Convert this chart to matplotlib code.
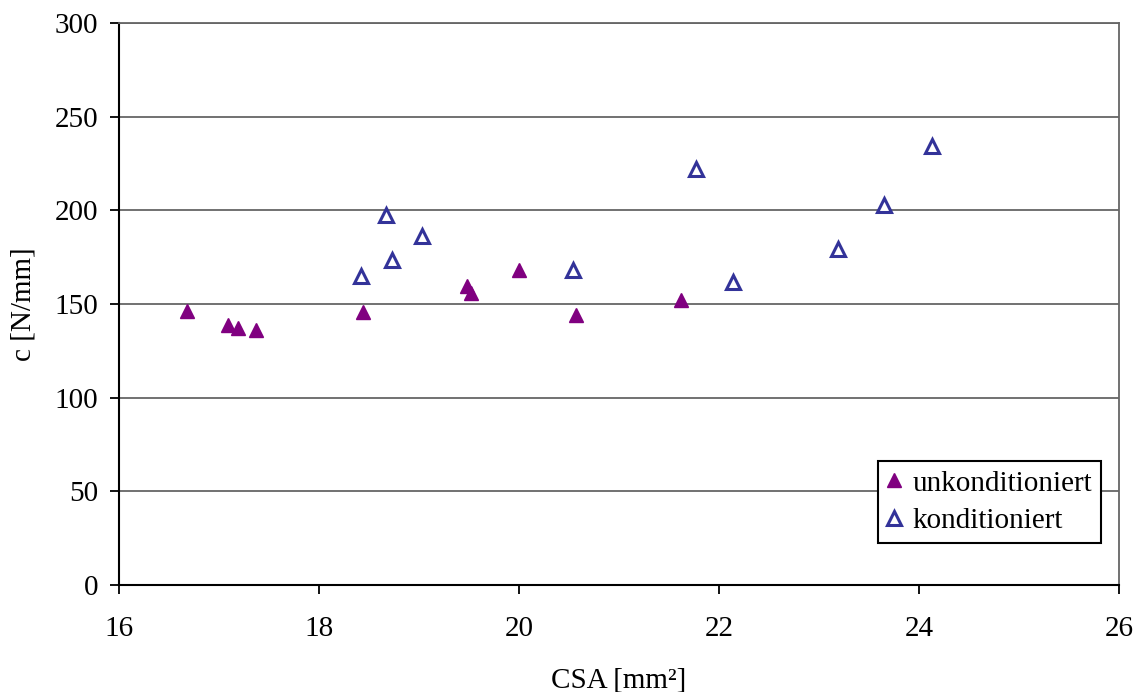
import matplotlib
matplotlib.use("Agg")
import matplotlib.pyplot as plt

# Data
unk_x = [16.68, 17.09, 17.19, 17.37, 18.44, 19.48, 19.52, 20.00, 20.57, 21.62]
unk_y = [146.3, 138.8, 137.2, 136.1, 145.7, 159.6, 155.9, 168.2, 144.1, 152.1]
kon_x = [18.42, 18.67, 18.73, 19.03, 20.54, 21.77, 22.14, 23.19, 23.65, 24.13]
kon_y = [165.0, 197.5, 173.5, 186.3, 168.2, 222.0, 161.6, 179.4, 202.9, 234.4]
x_ticks = [16, 18, 20, 22, 24, 26]
y_ticks = [0, 50, 100, 150, 200, 250, 300]
labels = ["unkonditioniert", "konditioniert"]

plt.rcParams['font.family'] = ['Liberation Serif', 'DejaVu Serif']

fig = plt.figure(figsize=(11.39, 6.92), dpi=100)
ax = fig.add_axes([119/1139, 1-585/692, 1000/1139, 562/692])

ax.set_xlim(16, 26)
ax.set_ylim(0, 300)
ax.set_xticks(x_ticks)
ax.set_yticks(y_ticks)
ax.yaxis.grid(True, color='#666666', linewidth=1.3)
ax.set_axisbelow(True)

ax.plot(unk_x, unk_y, linestyle='none', marker='^', markersize=10.5,
        color='#800080', markeredgecolor='#800080', label=labels[0], clip_on=False)
ax.plot(kon_x, kon_y, linestyle='none', marker='^', markersize=10,
        markerfacecolor='white', markeredgecolor='#333399', markeredgewidth=2.2,
        label=labels[1], clip_on=False)

for s in ['left', 'bottom']:
    ax.spines[s].set_color('black')
    ax.spines[s].set_linewidth(1.5)
for s in ['top', 'right']:
    ax.spines[s].set_color('#666666')
    ax.spines[s].set_linewidth(1.3)

ax.tick_params(axis='both', direction='out', length=6.5, width=1.3, labelsize=21, colors='black')
ax.tick_params(axis='x', pad=16)
ax.tick_params(axis='y', pad=8.5)

ax.set_xlabel("CSA [mm²]", fontsize=21, labelpad=18)
ax.set_ylabel("c [N/mm]", fontsize=21, labelpad=13)

leg = ax.legend(loc='lower right', bbox_to_anchor=(0.982, 0.075), fontsize=21,
                frameon=True, fancybox=False, edgecolor='black', framealpha=1,
                handlelength=0.5, handletextpad=0.4, borderpad=0.3, labelspacing=0.38,
                borderaxespad=0)
leg.get_frame().set_linewidth(1.5)

fig.savefig("out.png", dpi=100)
